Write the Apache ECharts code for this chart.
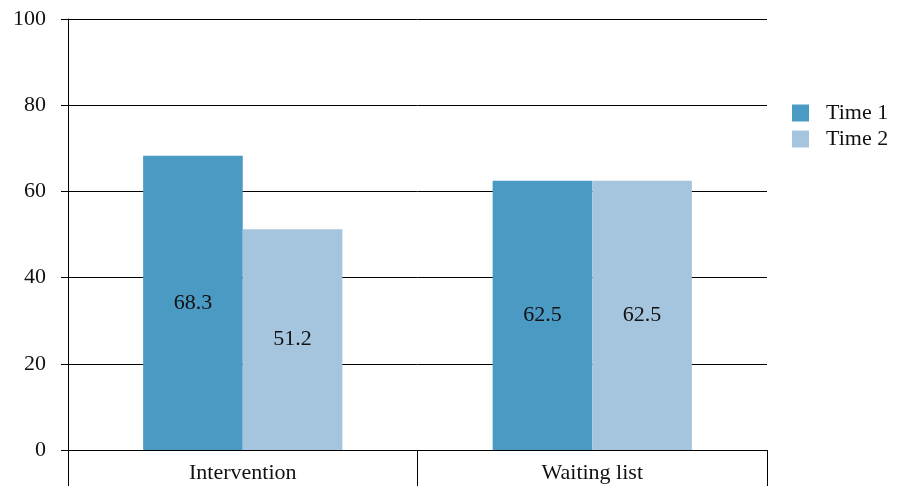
<!DOCTYPE html>
<html><head><meta charset="utf-8">
<script src="https://cdn.jsdelivr.net/npm/echarts@6/dist/echarts.min.js"></script>
<style>html,body{margin:0;padding:0;background:#fff}#c{width:899px;height:486px}</style>
</head><body><div id="c"></div>
<script>
const categories = ['Intervention', 'Waiting list'];
const time1 = [68.3, 62.5];
const time2 = [51.2, 62.5];
const seriesNames = ['Time 1', 'Time 2'];
const colors = ['#4a9ac4', '#a5c4dd'];
const font = 'Liberation Serif';
const chart = echarts.init(document.getElementById('c'));
const lbl = {show: true, position: 'inside', color: '#111', fontFamily: font, fontSize: 22};
chart.setOption({
  animation: false,
  grid: {left: 68, right: 132, top: 19, bottom: 36},
  legend: {
    orient: 'vertical', left: 787, top: 97, itemWidth: 17, itemHeight: 17, itemGap: 4,
    icon: 'rect',
    textStyle: {fontFamily: font, fontSize: 22, color: '#111', padding: [0, 0, 0, 12]},
    data: seriesNames
  },
  xAxis: {
    type: 'category', data: categories, boundaryGap: true,
    axisLine: {lineStyle: {color: '#000', width: 1}},
    axisTick: {show: true, length: 40, lineStyle: {color: '#000'}},
    axisLabel: {fontFamily: font, fontSize: 22, color: '#111', margin: 12}
  },
  yAxis: {
    type: 'value', min: 0, max: 100, interval: 20,
    axisLine: {show: true, lineStyle: {color: '#000'}},
    axisTick: {show: true, length: 7, lineStyle: {color: '#000'}},
    splitLine: {lineStyle: {color: '#000', width: 1}},
    axisLabel: {fontFamily: font, fontSize: 22, color: '#111', margin: 22}
  },
  series: [
    {name: seriesNames[0], type: 'bar', data: time1, itemStyle: {color: colors[0]}, barGap: '0%', barCategoryGap: '43%', label: lbl},
    {name: seriesNames[1], type: 'bar', data: time2, itemStyle: {color: colors[1]}, label: lbl}
  ]
});
</script></body></html>
